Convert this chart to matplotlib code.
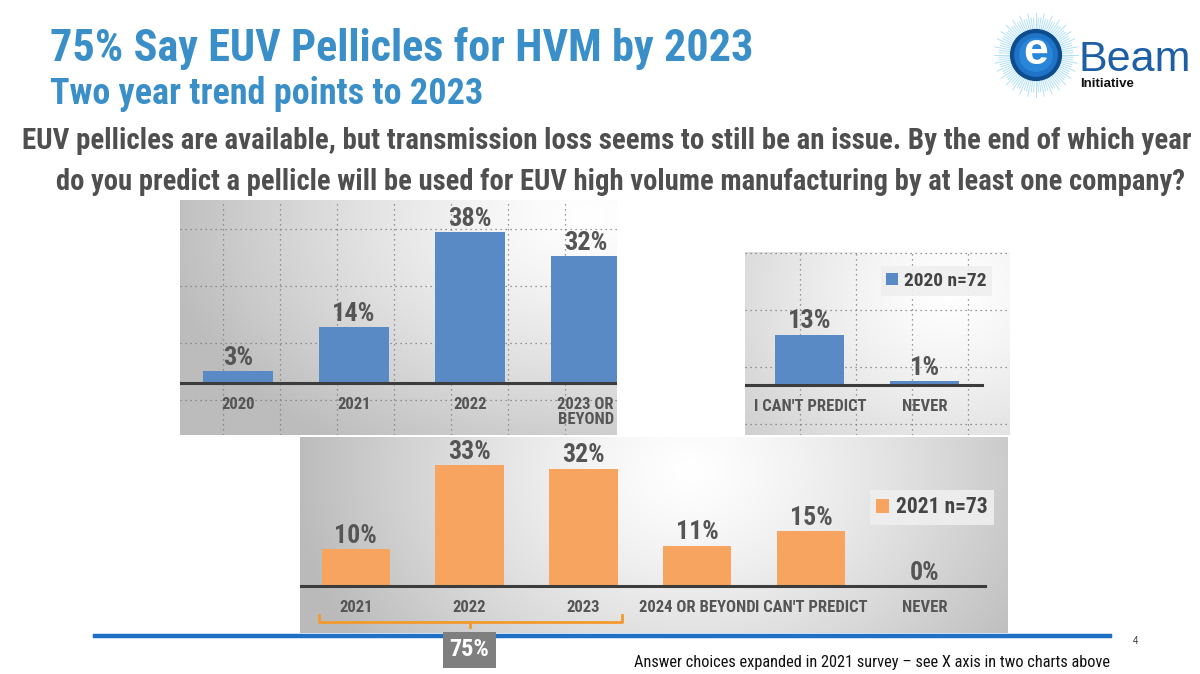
import matplotlib
matplotlib.use("Agg")
import matplotlib.pyplot as plt
import numpy as np
from matplotlib import font_manager as fm
from matplotlib.lines import Line2D
from matplotlib.patches import Circle

W, H = 1200, 674

_have = {f.name for f in fm.fontManager.ttflist}
_narrow = next((n for n in ["Liberation Sans Narrow", "Arial Narrow", "Roboto Condensed",
                            "Archivo Narrow", "PT Sans Narrow"] if n in _have), None)
if _narrow:
    NARROW = dict(family=[_narrow, "DejaVu Sans"])
else:
    NARROW = dict(family=["DejaVu Sans"], fontstretch="condensed")
SANS = ["Liberation Sans", "DejaVu Sans"]

# survey answers, % of respondents
cats_2020_years = ["2020", "2021", "2022", "2023 OR\nBEYOND"]
vals_2020_years = [3, 14, 38, 32]
cats_2020_other = ["I CAN'T PREDICT", "NEVER"]
vals_2020_other = [13, 1]
cats_2021 = ["2021", "2022", "2023", "2024 OR BEYOND", "I CAN'T PREDICT", "NEVER"]
vals_2021 = [10, 33, 32, 11, 15, 0]
label_2020 = "2020 n=72"
label_2021 = "2021 n=73"
share_by_2023 = 75

BLUE = "#5a8ac6"
ORANGE = "#f6a45f"
LABEL = "#555555"


def px_axes(fig, x0, y0, x1, y1, **kw):
    return fig.add_axes([x0 / W, 1 - y1 / H, (x1 - x0) / W, (y1 - y0) / H], **kw)


def fit_width(fig, t, width_px):
    r = fig.canvas.get_renderer()
    w = t.get_window_extent(r).width
    t.set_fontsize(t.get_fontsize() * width_px / w)


def panel_bg(fig, x0, y0, x1, y1, hx, hy, sx, sy, dark, grid_x=None, grid_y=None):
    bg = px_axes(fig, x0, y0, x1, y1)
    xs = np.linspace(x0, x1, 200)
    ys = np.linspace(y0, y1, 100)
    X, Y = np.meshgrid(xs, ys)
    d = np.clip(np.hypot((X - hx) / sx, (Y - hy) / sy), 0, 1)
    v = 1 - dark * d ** 1.3
    bg.imshow(np.dstack([v, v, v]), extent=[x0, x1, y1, y0], aspect="auto", interpolation="bilinear")
    bg.set_xlim(x0, x1)
    bg.set_ylim(y1, y0)
    if grid_x is not None:
        bg.set_xticks(grid_x)
        bg.set_yticks(grid_y)
        bg.set_axisbelow(False)
        bg.grid(True, ls=(0, (1, 3)), color="#7a7a7a", lw=0.9)
    else:
        bg.set_xticks([])
        bg.set_yticks([])
    bg.tick_params(length=0, labelbottom=False, labelleft=False)
    for s in bg.spines.values():
        s.set_visible(False)
    return bg


def bar_panel(fig, rect, cats, vals, color, xlim, ylim, base_frac, val_size, tick_size, label=None):
    ax = px_axes(fig, *rect)
    ax.set_facecolor("none")
    x = np.arange(len(cats))
    bars = ax.bar(x, vals, width=0.6, color=color, label=label, zorder=2)
    ax.bar_label(bars, labels=[f"{v}%" for v in vals], padding=1, fontsize=val_size,
                 fontweight="bold", color=LABEL, **NARROW)
    ax.axhline(0, xmin=0, xmax=base_frac, color="#3c3c3c", lw=2.2, zorder=3)
    ax.set_xlim(*xlim)
    ax.set_ylim(*ylim)
    ax.spines["bottom"].set_position(("data", 0))
    for s in ax.spines.values():
        s.set_visible(False)
    ax.set_xticks(x)
    ax.set_xticklabels(cats, fontsize=tick_size, fontweight="bold", color=LABEL, linespacing=1.0,
                       **NARROW)
    ax.tick_params(axis="x", length=0, pad=10)
    ax.set_yticks([])
    return ax


def legend(ax, anchor, size):
    prop = dict(weight="bold", size=size, family=NARROW["family"])
    if "fontstretch" in NARROW:
        prop["stretch"] = NARROW["fontstretch"]
    ax.legend(loc="upper right", bbox_to_anchor=anchor, frameon=True, fancybox=False,
              facecolor="#efefef", edgecolor="none", framealpha=0.9, handlelength=0.6,
              handleheight=0.6, handletextpad=0.3, borderpad=0.3, labelcolor="#444444", prop=prop)


fig = plt.figure(figsize=(W / 100, H / 100), dpi=100)
fig.patch.set_facecolor("white")

# titles
t = fig.text(50 / W, 1 - 61 / H, "75% Say EUV Pellicles for HVM by 2023", fontsize=31,
             fontweight="bold", color="#3a8fc8", va="baseline", **NARROW)
fit_width(fig, t, 702)
t = fig.text(50 / W, 1 - 104 / H, "Two year trend points to 2023", fontsize=21.5,
             fontweight="bold", color="#3a8fc8", va="baseline", **NARROW)
fit_width(fig, t, 433)
t = fig.text(607 / W, 1 - 149 / H,
             "EUV pellicles are available, but transmission loss seems to still be an issue. "
             "By the end of which year",
             fontsize=18, fontweight="bold", color="#4f4f4f", va="baseline", ha="center", **NARROW)
fit_width(fig, t, 1172)
t = fig.text(621 / W, 1 - 190 / H,
             "do you predict a pellicle will be used for EUV high volume manufacturing by at least "
             "one company?",
             fontsize=18, fontweight="bold", color="#4f4f4f", va="baseline", ha="center", **NARROW)
fit_width(fig, t, 1126)

# panel backgrounds
panel_bg(fig, 180, 200, 617, 435, 590, 215, 430, 280, 0.26,
         grid_x=np.arange(223, 617, 57), grid_y=np.arange(229, 435, 57))
panel_bg(fig, 745, 252, 1010, 435, 950, 290, 300, 260, 0.22,
         grid_x=np.arange(800, 1010, 56), grid_y=np.arange(253, 435, 57))
panel_bg(fig, 300, 437, 1008, 633, 690, 470, 400, 320, 0.27)

# 2020 survey: year answers
bar_panel(fig, (180, 200, 617, 435), cats_2020_years, vals_2020_years, BLUE,
          (-0.5, 3.27), (-13.1, 46.1), 1.0, 19, 12)

# 2020 survey: other answers
ax_tr = bar_panel(fig, (745, 252, 1010, 435), cats_2020_other, vals_2020_other, BLUE,
                  (-0.565, 1.74), (-13.0, 34.5), 0.894, 19, 12, label=label_2020)
legend(ax_tr, (0.97, 0.975), 14)

# 2021 survey
ax_b = bar_panel(fig, (300, 437, 1008, 633), cats_2021, vals_2021, ORANGE,
                 (-0.49, 5.73), (-12.8, 40.6), 0.967, 18.5, 12, label=label_2021)
ax_b.set_zorder(3)
legend(ax_b, (0.995, 0.785), 15.5)

# bracket under the first three answers of 2021
bx0, bx1, by = -0.32, 2.34, -9.8
ax_b.plot([bx0, bx0, bx1, bx1], [by + 1.9, by, by, by + 1.9], color="#f39a2e", lw=2, clip_on=False)
ax_b.plot([1, 1], [by, by - 1.5], color="#f39a2e", lw=2, clip_on=False)
ax_b.text(1, -17.4, f"{share_by_2023}%", ha="center", va="center", fontsize=17.5, fontweight="bold",
          color="white", clip_on=False, bbox=dict(boxstyle="square,pad=0.28", fc="#7f7f7f", ec="none"),
          **NARROW)

# footer rule, page number and note
fig.add_artist(Line2D([95 / W, 1110 / W], [1 - 636 / H, 1 - 636 / H], lw=3.2, color="#1f6fc4", zorder=2))
fig.text(1133 / W, 1 - 644 / H, "4", fontsize=7, color="#333333", family=SANS)
t = fig.text(1110 / W, 1 - 667 / H,
             "Answer choices expanded in 2021 survey \u2013 see X axis in two charts above",
             fontsize=10.5, color="#111111", ha="right", va="baseline", **NARROW)
t.set_fontweight("normal")
fit_width(fig, t, 480)

# logo
lg = px_axes(fig, 985, 0, 1200, 100)
lg.set_xlim(985, 1200)
lg.set_ylim(100, 0)
lg.axis("off")
cx, cy = 1036, 55
for i, a in enumerate(np.linspace(0, 2 * np.pi, 96, endpoint=False)):
    r1 = 37 + 5 * (i % 3 == 0)
    lg.plot([cx + 22 * np.cos(a), cx + r1 * np.cos(a)], [cy + 22 * np.sin(a), cy + r1 * np.sin(a)],
            color="#9ad6f3", lw=0.7, alpha=0.75)
lg.add_patch(Circle((cx, cy), 24, fc="#1f74c8", ec="#0f4c8e", lw=3, zorder=3))
lg.add_patch(Circle((cx, cy), 17, fc="#2a86d8", ec="none", zorder=3))
lg.text(cx, cy - 2, "e", ha="center", va="center", fontsize=32, fontweight="bold", color="white",
        family=SANS, zorder=4)
lg.text(1079, 71, "Beam", fontsize=31, color="#1d5fa6", family=SANS, va="baseline")
lg.text(1080, 87, "Initiative", fontsize=9.5, fontweight="bold", color="#111111", family=SANS,
        va="baseline")

fig.savefig("out.png", dpi=100)
